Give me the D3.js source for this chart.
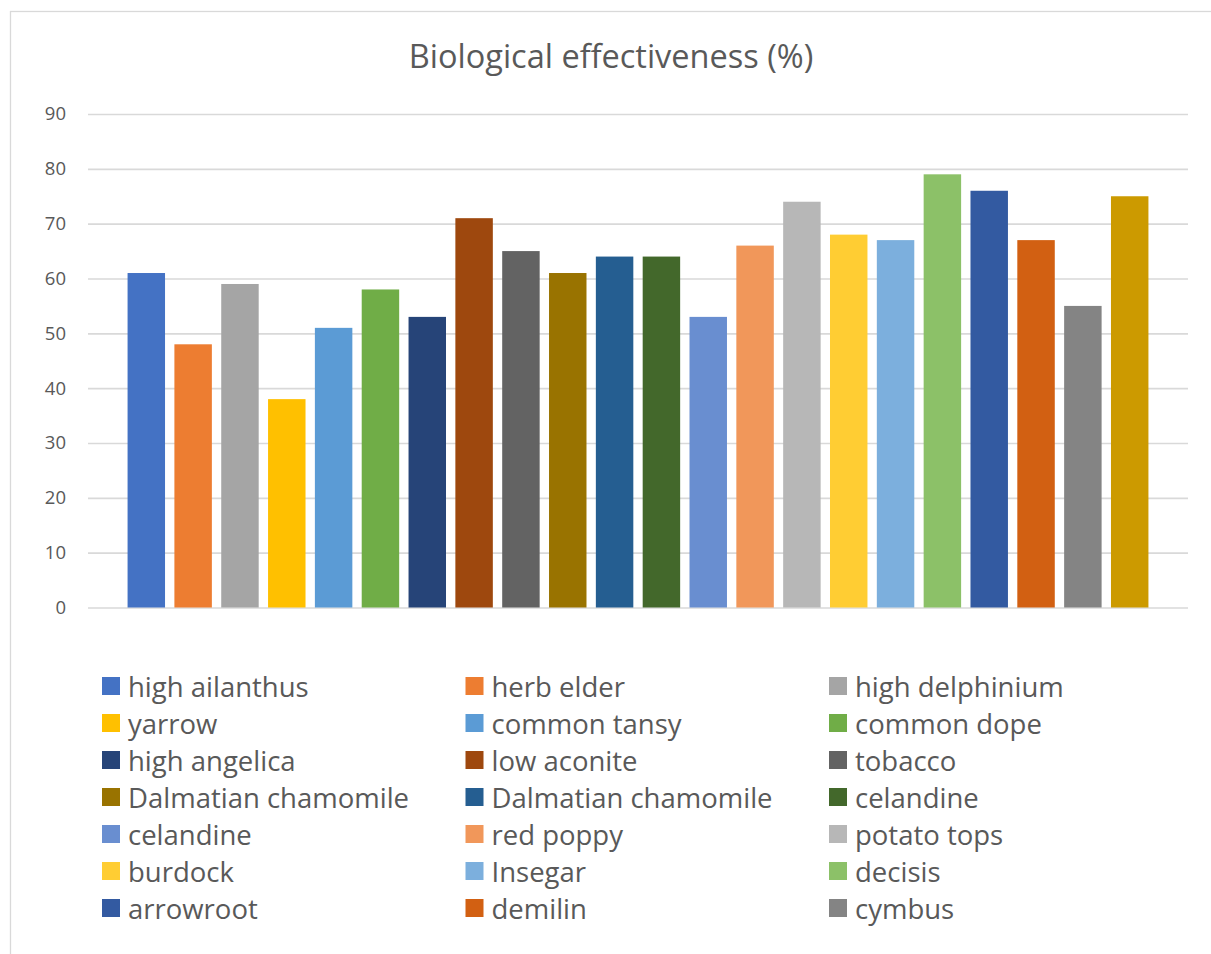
<!DOCTYPE html>
<html>
<head>
<meta charset="utf-8">
<script src="https://cdn.jsdelivr.net/npm/d3@7"></script>
<style>
  html, body { margin: 0; padding: 0; background: #fff; }
  svg { display: block; font-family: "Open Sans", "Noto Sans", sans-serif; }
</style>
</head>
<body>
<svg id="chart" width="1211" height="954"></svg>
<script>
// ---- data ----
const chartTitle = "Biological effectiveness (%)";
const seriesNames = [
  "high ailanthus", "herb elder", "high delphinium",
  "yarrow", "common tansy", "common dope",
  "high angelica", "low aconite", "tobacco",
  "Dalmatian chamomile", "Dalmatian chamomile", "celandine",
  "celandine", "red poppy", "potato tops",
  "burdock", "Insegar", "decisis",
  "arrowroot", "demilin", "cymbus",
  "" // 22nd series: its legend entry is cut off in the original
];
const seriesValues = [61, 48, 59, 38, 51, 58, 53, 71, 65, 61, 64, 64, 53, 66, 74, 68, 67, 79, 76, 67, 55, 75];
const seriesColors = [
  "#4472C4", "#ED7D31", "#A5A5A5", "#FFC000", "#5B9BD5", "#70AD47",
  "#264478", "#9E480E", "#636363", "#997300", "#255E91", "#43682B",
  "#698ED0", "#F1975A", "#B7B7B7", "#FFCD33", "#7CAFDD", "#8CC168",
  "#335AA1", "#D26012", "#848484", "#CC9A00"
];
const yTicks = [0, 10, 20, 30, 40, 50, 60, 70, 80, 90];

// ---- layout ----
const svg = d3.select("#chart");
const plot = { left: 88, right: 1188, top: 114, bottom: 607.5 };
const textColor = "#595959";
const gridColor = "#d9d9d9";

// chart frame (extends beyond right/bottom edges)
svg.append("rect")
  .attr("x", 10.5).attr("y", 11.5)
  .attr("width", 1220).attr("height", 960)
  .attr("fill", "#fff").attr("stroke", gridColor).attr("stroke-width", 1.3);

// title
svg.append("text")
  .attr("x", 611).attr("y", 68)
  .attr("text-anchor", "middle")
  .attr("fill", textColor)
  .attr("font-size", 32.5)
  .text(chartTitle);

const idx = d3.range(seriesValues.length);
const x = d3.scaleBand()
  .domain(idx)
  .range([plot.left, plot.right])
  .paddingInner(0.2)
  .paddingOuter(0.845);

const y = d3.scaleLinear()
  .domain([0, 90])
  .range([plot.bottom, plot.top]);

// gridlines + y labels via axis
const yAxis = d3.axisLeft(y)
  .tickValues(yTicks)
  .tickSize(-(plot.right - plot.left))
  .tickPadding(22);

const gY = svg.append("g")
  .attr("transform", `translate(${plot.left},0)`)
  .call(yAxis);
gY.select(".domain").remove();
gY.selectAll(".tick line").attr("stroke", gridColor).attr("stroke-width", 1.6);
gY.selectAll(".tick text")
  .attr("fill", textColor)
  .attr("font-size", 18.5)
  .attr("font-family", "'Open Sans', sans-serif");

// bars
svg.append("g").selectAll("rect")
  .data(idx)
  .join("rect")
  .attr("x", i => x(i))
  .attr("width", x.bandwidth())
  .attr("y", i => y(seriesValues[i]))
  .attr("height", i => y(0) - y(seriesValues[i]))
  .attr("fill", i => seriesColors[i]);

// legend (3 columns, only named entries that fit)
const legendItems = idx.filter(i => seriesNames[i] !== "");
const legCols = 3, colX0 = 102, colStep = 363.5, rowY0 = 686, rowStep = 37, sw = 18;
const leg = svg.append("g").selectAll("g")
  .data(legendItems)
  .join("g")
  .attr("transform", (d, k) => `translate(${colX0 + (k % legCols) * colStep},${rowY0 + Math.floor(k / legCols) * rowStep})`);
leg.append("rect")
  .attr("x", 0).attr("y", -sw / 2)
  .attr("width", sw).attr("height", sw)
  .attr("fill", i => seriesColors[i]);
leg.append("text")
  .attr("x", 26).attr("y", 1)
  .attr("dy", "0.35em")
  .attr("fill", textColor)
  .attr("font-size", 27.5)
  .text(i => seriesNames[i]);
</script>
</body>
</html>
